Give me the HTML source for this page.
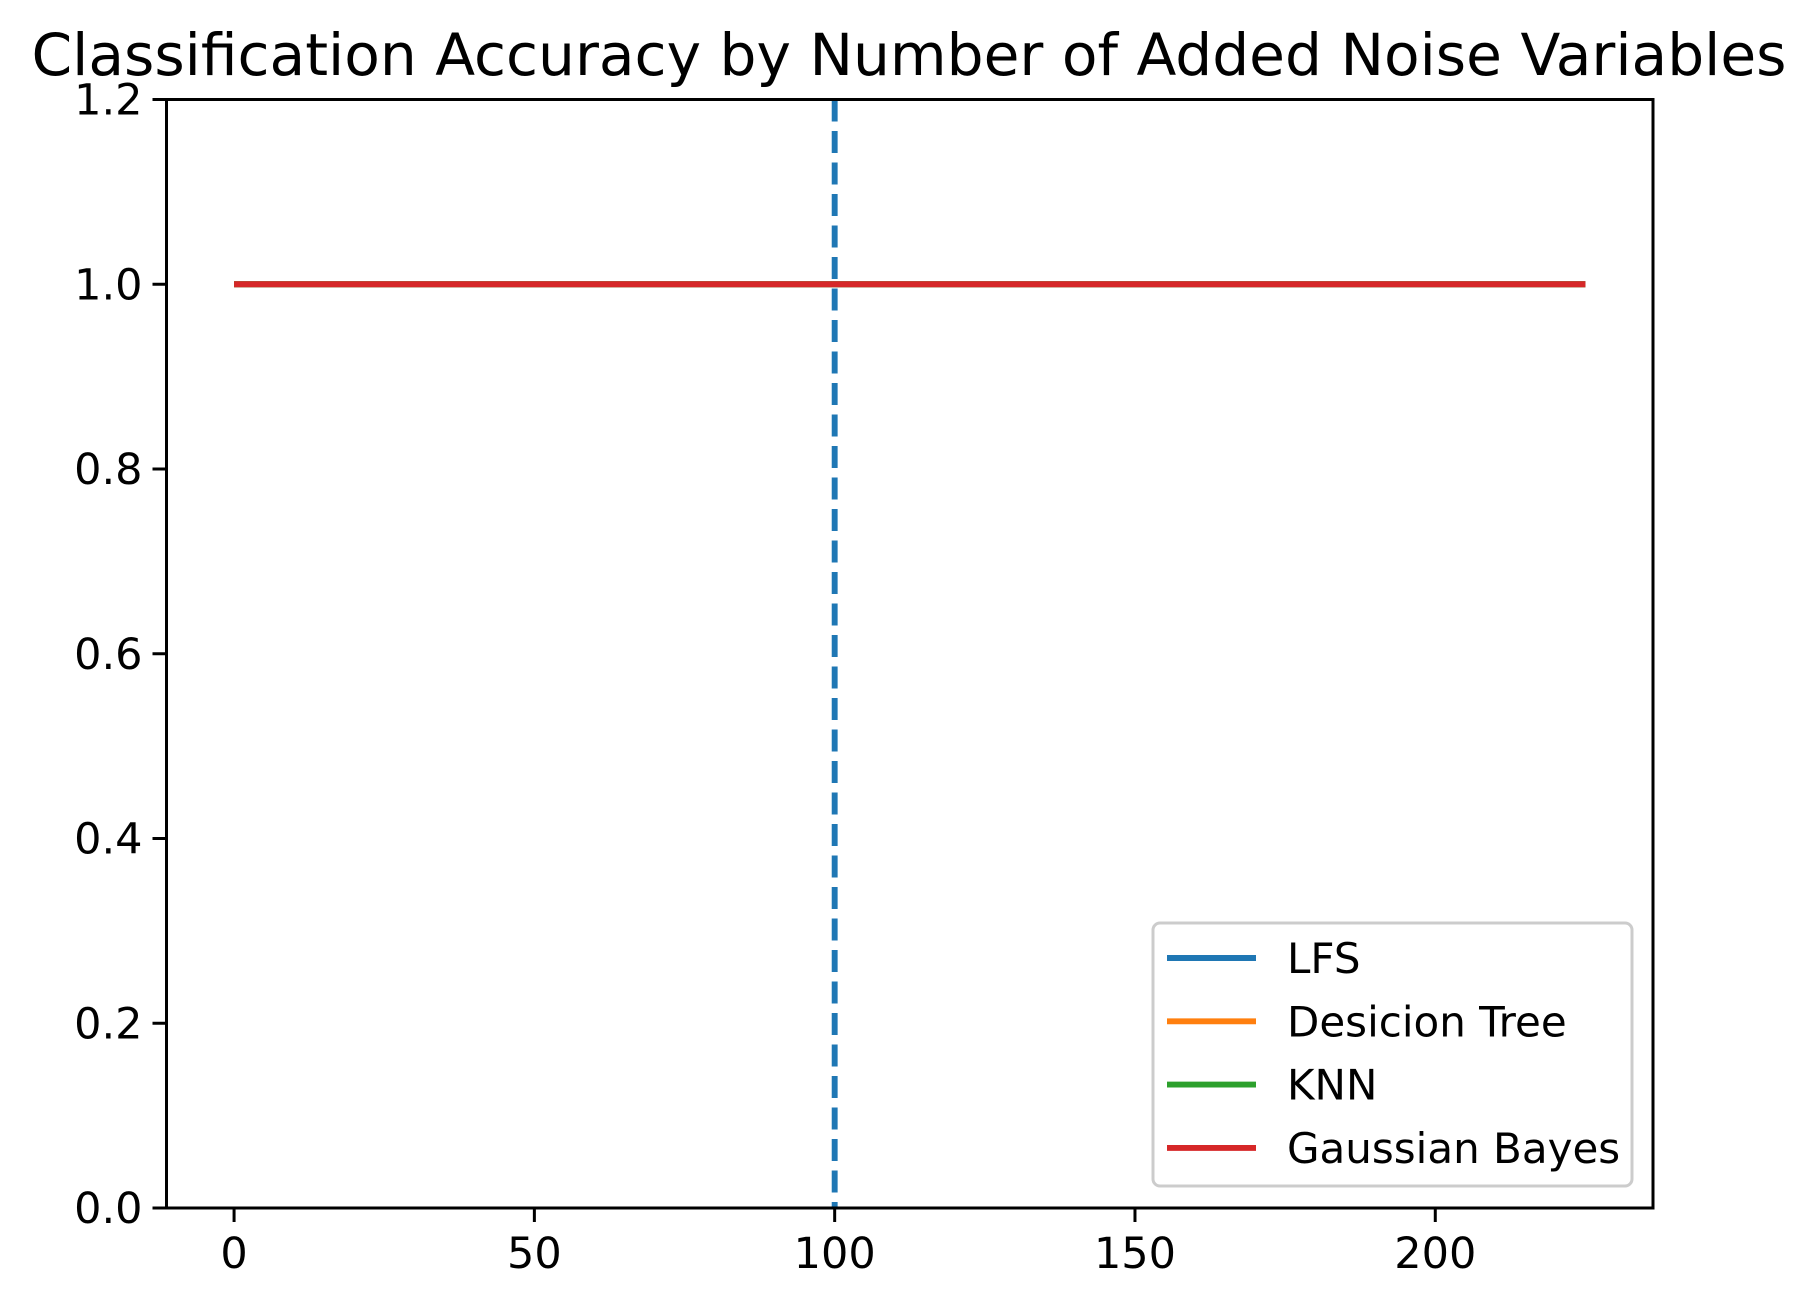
<!DOCTYPE html>
<html><head><meta charset="utf-8"><style>html,body{margin:0;padding:0;background:#fff}svg{display:block}</style></head>
<body>
<svg id="chart" width="1819" height="1309" xmlns="http://www.w3.org/2000/svg" font-family="'DejaVu Sans', 'Liberation Sans', sans-serif">
<rect width="1819" height="1309" fill="#fff"/>
<text x="909" y="75" font-size="57.5" text-anchor="middle" textLength="1755" lengthAdjust="spacingAndGlyphs">Classification Accuracy by Number of Added Noise Variables</text>
<g id="plot"></g>
</svg>
<script>
const xTicks = [0, 50, 100, 150, 200];
const yTicks = [0.0, 0.2, 0.4, 0.6, 0.8, 1.0, 1.2];
const seriesNames = ["LFS", "Desicion Tree", "KNN", "Gaussian Bayes"];
const seriesColors = ["#1f77b4", "#ff7f0e", "#2ca02c", "#d62728"];
const xValues = [0, 25, 50, 75, 100, 125, 150, 175, 200, 225];
const lfsValues = [1, 1, 1, 1, 1, 1, 1, 1, 1, 1];
const treeValues = [1, 1, 1, 1, 1, 1, 1, 1, 1, 1];
const knnValues = [1, 1, 1, 1, 1, 1, 1, 1, 1, 1];
const bayesValues = [1, 1, 1, 1, 1, 1, 1, 1, 1, 1];
const vlineX = 100;

const L=166.5,R=1653,T=99.5,B=1208;
const xMin=-11.25,xMax=236.25,yMin=0,yMax=1.2;
const sx=v=>L+(v-xMin)/(xMax-xMin)*(R-L);
const sy=v=>B-(v-yMin)/(yMax-yMin)*(B-T);
const NS="http://www.w3.org/2000/svg";
const g=document.getElementById('plot');
function mk(tag,attrs,parent){const e=document.createElementNS(NS,tag);for(const k in attrs)e.setAttribute(k,attrs[k]);(parent||g).appendChild(e);return e;}

const all=[lfsValues,treeValues,knnValues,bayesValues];
all.forEach((vals,i)=>{
  const p=mk('polyline',{points:xValues.map((x,j)=>sx(x)+','+sy(vals[j])).join(' '),fill:'none',stroke:seriesColors[i],'stroke-width':5.9});
  
  
});
const vl=mk('line',{x1:sx(vlineX),x2:sx(vlineX),y1:T,y2:B,stroke:'#1f77b4','stroke-width':5.9,'stroke-dasharray':'22 9.5'});



const frame=mk('rect',{x:L,y:T,width:R-L,height:B-T,fill:'none',stroke:'#000','stroke-width':3});



xTicks.forEach(t=>{
  const x=sx(t);
  const tk=mk('line',{x1:x,x2:x,y1:B,y2:B+14,stroke:'#000','stroke-width':3});
  
  
  const tx=mk('text',{x:x,y:B+60,'font-size':43,'text-anchor':'middle'});
  tx.textContent=String(t);
  
  
});
yTicks.forEach(t=>{
  const y=sy(t);
  const tk=mk('line',{x1:L-14,x2:L,y1:y,y2:y,stroke:'#000','stroke-width':3});
  
  
  const tx=mk('text',{x:L-24,y:y+15,'font-size':43,'text-anchor':'end'});
  tx.textContent=t.toFixed(1);
  
  
});

const lg=mk('g',{});


mk('rect',{x:1153,y:923,width:479,height:263,rx:7,fill:'#fff','fill-opacity':0.8,stroke:'#ccc','stroke-width':3},lg);
seriesNames.forEach((n,i)=>{
  const y=958+i*63.3;
  const e=mk('g',{},lg);
  
  
  mk('line',{x1:1167,x2:1256,y1:y,y2:y,stroke:seriesColors[i],'stroke-width':5.9},e);
  const t=mk('text',{x:1287,y:y+15,'font-size':42},e);
  t.textContent=n;
});
</script>
</body></html>
